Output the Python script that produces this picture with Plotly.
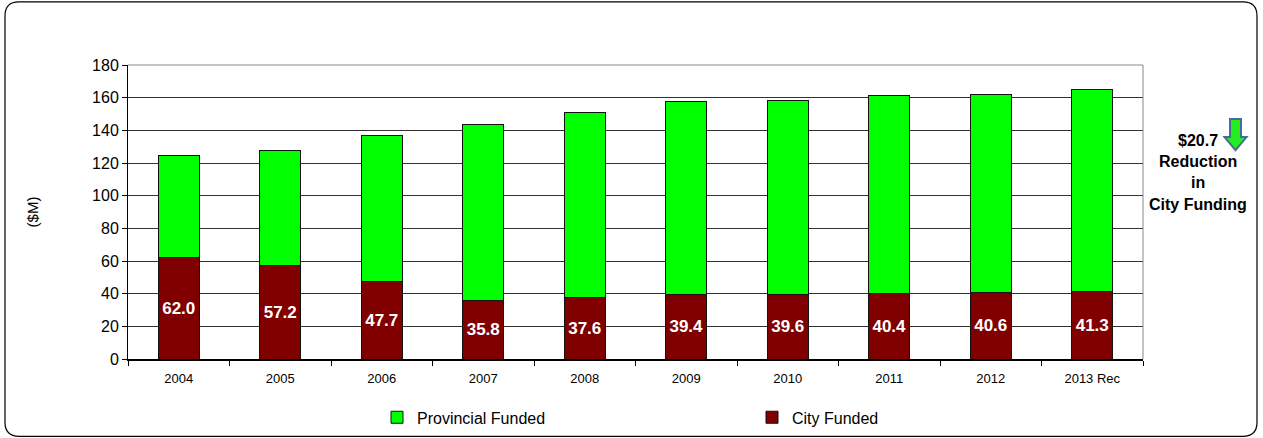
import plotly.graph_objects as go

years = ["2004", "2005", "2006", "2007", "2008", "2009", "2010", "2011", "2012", "2013 Rec"]
city_funded = [62.0, 57.2, 47.7, 35.8, 37.6, 39.4, 39.6, 40.4, 40.6, 41.3]
provincial_funded = [62.3, 70.2, 89.2, 107.7, 113.4, 118.3, 118.9, 121.0, 121.4, 123.6]
y_ticks = [0, 20, 40, 60, 80, 100, 120, 140, 160, 180]
note_lines = ["$20.7", "Reduction", "in", "City Funding"]

W, H = 1263, 438
L, R, T, B = 128, 1143, 65, 358.7
PW, PH = R - L, B - T


def X(px):
    return (px - L) / PW


def Y(py):
    return (B - py) / PH


FONT = "Liberation Sans, Arial, sans-serif"

fig = go.Figure()
fig.add_trace(go.Bar(
    name="City Funded", x=years, y=city_funded,
    marker=dict(color="#800000", line=dict(color="#111111", width=1)),
    text=[f"{v:.1f}" for v in city_funded], textposition="inside",
    insidetextanchor="middle", textangle=0,
    textfont=dict(color="white", size=17, family=FONT, weight="bold"),
    width=0.4, hoverinfo="x+y",
))
fig.add_trace(go.Bar(
    name="Provincial Funded", x=years, y=provincial_funded,
    marker=dict(color="#00FF00", line=dict(color="#111111", width=1)),
    width=0.4, hoverinfo="x+y",
))

shapes = []
# rounded outer border
x0, x1, y0, y1, r = 5, 1257, 2, 436, 14
path = (f"M {X(x0+r)},{Y(y0)} L {X(x1-r)},{Y(y0)} Q {X(x1)},{Y(y0)} {X(x1)},{Y(y0+r)} "
        f"L {X(x1)},{Y(y1-r)} Q {X(x1)},{Y(y1)} {X(x1-r)},{Y(y1)} "
        f"L {X(x0+r)},{Y(y1)} Q {X(x0)},{Y(y1)} {X(x0)},{Y(y1-r)} "
        f"L {X(x0)},{Y(y0+r)} Q {X(x0)},{Y(y0)} {X(x0+r)},{Y(y0)} Z")
shapes.append(dict(type="path", xref="paper", yref="paper", path=path,
                   line=dict(color="#000000", width=1.2), layer="below"))
# plot-area top/right border (gray)
shapes.append(dict(type="line", xref="paper", yref="paper", x0=0, x1=1, y0=1, y1=1,
                   line=dict(color="#b0b0b0", width=1.5), layer="above"))
shapes.append(dict(type="line", xref="paper", yref="paper", x0=1, x1=1, y0=0, y1=1,
                   line=dict(color="#888888", width=1), layer="above"))
# down arrow
ax = [1230, 1241, 1241, 1246.5, 1235.5, 1224.5, 1230]
ay = [119, 119, 137, 137, 150, 137, 137]
apath = "M " + " L ".join(f"{X(a)},{Y(b)}" for a, b in zip(ax, ay)) + " Z"
shapes.append(dict(type="path", xref="paper", yref="paper", path=apath,
                   fillcolor="#22ee22", line=dict(color="#4a6a9a", width=2)))

annotations = []
line_y = [140, 161, 182, 204]
for txt, py in zip(note_lines, line_y):
    annotations.append(dict(
        text=f"<b>{txt}</b>", xref="paper", yref="paper", x=X(1198), y=Y(py),
        xanchor="center", yanchor="middle", showarrow=False,
        font=dict(size=16, family=FONT, color="#000000"),
    ))

fig.update_layout(
    width=W, height=H,
    margin=dict(l=L, r=W - R, t=T, b=H - B, autoexpand=False),
    paper_bgcolor="white", plot_bgcolor="white",
    barmode="stack", bargap=0.6,
    font=dict(family=FONT, color="#000000"),
    showlegend=True,
    legend=dict(orientation="h", x=X(377), xanchor="left", y=Y(417), yanchor="middle",
                traceorder="reversed", entrywidth=330, entrywidthmode="pixels",
                font=dict(size=16, family=FONT)),
    xaxis=dict(type="category", tickson="boundaries", ticks="outside", ticklen=5,
               tickcolor="#000", showline=True, linecolor="#000", linewidth=2,
               tickfont=dict(size=13, family=FONT), showgrid=False,
               ticklabelstandoff=6),
    yaxis=dict(range=[0, 180], tickvals=y_ticks, ticks="outside", ticklen=5,
               tickcolor="#000", showline=True, linecolor="#000", linewidth=1,
               gridcolor="#333333", gridwidth=1, zeroline=False,
               tickfont=dict(size=16, family=FONT),
               title=dict(text="($M)", font=dict(size=15, family=FONT), standoff=49)),
    shapes=shapes, annotations=annotations,
)

fig.write_html("out.html", config={"displayModeBar": False},
               post_script="document.body.style.margin='0';")
